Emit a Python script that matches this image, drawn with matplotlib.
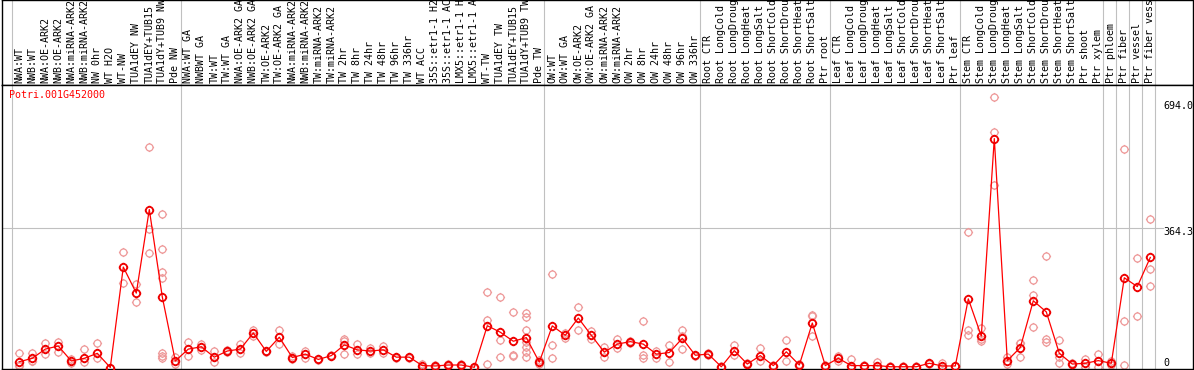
import numpy as np
import matplotlib
matplotlib.use('Agg')
import matplotlib.pyplot as plt
from matplotlib.path import Path
from matplotlib.transforms import offset_copy

plt.rcParams['font.family'] = ['DejaVu Sans Mono']

gene = 'Potri.001G452000'

labels = ['NWA:WT', 'NWB:WT', 'NWA:OE-ARK2', 'NWB:OE-ARK2', 'NWA:miRNA-ARK2', 'NWB:miRNA-ARK2',
          'NW 0hr', 'WT H2O', 'WT-NW', 'TUA1dEY NW', 'TUA1dEY+TUB15', 'TUA1dY+TUB9 NW', 'Pde NW',
          'NWA:WT GA', 'NWBWT GA', 'TW:WT', 'TW:WT GA', 'NWA:OE-ARK2 GA', 'NWB:OE-ARK2 GA',
          'TW:OE-ARK2', 'TW:OE-ARK2 GA', 'NWA:miRNA-ARK2', 'NWB:miRNA-ARK2', 'TW:miRNA-ARK2',
          'TW:miRNA-ARK2', 'TW 2hr', 'TW 8hr', 'TW 24hr', 'TW 48hr', 'TW 96hr', 'TW 336hr', 'WT ACC',
          '35S::etr1-1 H2O', '35S::etr1-1 ACC', 'LMX5::etr1-1 H2O', 'LMX5::etr1-1 ACC', 'WT-TW',
          'TUA1dEY TW', 'TUA1dEY+TUB15', 'TUA1dY+TUB9 TW', 'Pde TW',
          'OW:WT', 'OW:WT GA', 'OW:OE-ARK2', 'OW:OE-ARK2 GA', 'OW:miRNA-ARK2', 'OW:miRNA-ARK2',
          'OW 2hr', 'OW 8hr', 'OW 24hr', 'OW 48hr', 'OW 96hr', 'OW 336hr',
          'Root CTR', 'Root LongCold', 'Root LongDrought', 'Root LongHeat', 'Root LongSalt',
          'Root ShortCold', 'Root ShortDrought', 'Root ShortHeat', 'Root ShortSalt', 'Ptr root',
          'Leaf CTR', 'Leaf LongCold', 'Leaf LongDrought', 'Leaf LongHeat', 'Leaf LongSalt',
          'Leaf ShortCold', 'Leaf ShortDrought', 'Leaf ShortHeat', 'Leaf ShortSalt', 'Ptr leaf',
          'Stem CTR', 'Stem LongCold', 'Stem LongDrought', 'Stem LongHeat', 'Stem LongSalt',
          'Stem ShortCold', 'Stem ShortDrought', 'Stem ShortHeat', 'Stem ShortSalt', 'Ptr shoot',
          'Ptr xylem', 'Ptr phloem', 'Ptr fiber', 'Ptr vessel', 'Ptr fiber vessel']

# mean expression per sample
means = [15, 24, 48, 56, 17, 24, 37, 0, 262, 194, 412, 184, 17,
         48, 54, 27, 43, 48, 90, 42, 79, 26, 35, 21, 31, 59, 46, 43, 46, 27, 27, 5, 4, 6.5, 6.5,
         0.5, 109, 92, 68.5, 78, 14,
         108.6, 84, 129, 84, 40, 61, 67.5, 61, 35, 39, 76, 32,
         35, 2, 44, 9, 31, 5, 41, 6.5, 116, 5,
         24, 5, 5, 5, 2, 2, 2, 11, 4, 4,
         179, 82, 597, 18, 52, 174, 145, 37, 9, 11, 18, 11, 234, 211, 287]

# replicate values per sample
reps = [[37, 6, 3], [37, 17, 18], [63, 35], [66, 41], [21, 13], [48, 14], [64, 25], [0],
        [301, 220], [218, 171], [574, 362, 299], [401, 309, 249, 234, 37, 30, 26], [28, 8],
        [66, 31], [62, 45], [43, 15], [45, 41], [60, 37], [98, 82], [44, 40], [98, 61],
        [31, 21], [44, 26], [23, 19], [33, 29], [74, 68, 35], [61, 35], [50, 37], [57, 37],
        [28, 26], [28, 26], [10, 0], [6, 2], [9, 4], [9, 4], [1, 0],
        [197, 124, 9], [184, 71, 27.5], [144, 33, 30], [142, 133, 98, 66, 53, 41, 27], [20, 8],
        [244, 58, 24], [91, 76], [157.5, 98], [95.5, 74], [54, 28], [75, 50], [70, 65],
        [121, 33, 26], [44, 24], [59, 15], [98, 47.6, 82], [33, 31],
        [38, 32], [3, 1], [59, 32], [12, 6], [50, 18], [7, 3], [71, 17], [8, 5],
        [137, 134, 81], [7, 3],
        [31, 17], [22, 0, 0], [6, 4], [15, 0], [3, 1], [3, 1], [3, 1], [12, 10], [12.6, 0], [5, 3],
        [354, 98, 85], [102.6, 69, 75], [704.5, 613, 477], [28, 9], [63, 65, 28],
        [229, 190, 105], [292, 74, 67.5], [72, 11, 28], [12, 6], [21.5, 2], [35, 1], [16, 6],
        [571, 122, 6.5], [286, 135], [386, 257, 213]]

group_starts = [0, 13, 41, 53, 63, 73, 84, 85, 86, 87, 88]
ytick_vals = [694.0, 364.3, 0]
ytick_text = ['694.0', '364.3', '0']

# circle with little ticks
circ = Path.unit_circle()
ticks = Path([(0, 1), (0, 1.3), (0, -1), (0, -1.3), (1, 0), (1.3, 0), (-1, 0), (-1.3, 0)],
             [Path.MOVETO, Path.LINETO] * 4)
mark = Path.make_compound_path(circ, ticks)

W, H = 1194, 370
fig = plt.figure(figsize=(W / 100, H / 100), dpi=100)
xlim = ((2 - 19.3) / 13, (1193 - 19.3) / 13)

ax_lab = fig.add_axes([2 / W, (H - 85) / H, 1191 / W, 85 / H])
ax = fig.add_axes([2 / W, 1 / H, 1191 / W, 284 / H])

for a in (ax_lab, ax):
    a.set_xlim(xlim)
    a.set_xticks([])
    a.set_yticks([])
    for s in a.spines.values():
        s.set_color('black')
        s.set_linewidth(1)
    for g in group_starts:
        a.axvline(g - 0.6, color='#c0c0c0', lw=0.8, zorder=0)

ax_lab.set_ylim(0, 85)
x = np.arange(len(labels))
for i, lab in enumerate(labels):
    ax_lab.text(i, 2, lab, rotation=90, ha='center', va='bottom', fontsize=7.2, color='black')

ax.set_ylim(-3.9, 736.7)
ax.plot([xlim[0], 87.98], [364.3, 364.3], color='#c0c0c0', lw=0.8, zorder=0)

for i, r in enumerate(reps):
    ax.plot([i] * len(r), r, ls='none', marker=mark, ms=6.6, mfc='none', mec='#ee9999', mew=0.9, zorder=2)

ax.plot(x, means, color='red', lw=0.9, marker=mark, ms=6.8, mfc='none', mec='#ee0000', mew=1.3, zorder=3)

ax.text(-0.79, 710.5, gene, color='red', fontsize=7.2, ha='left', va='center')

# value labels on the right, top/middle sit a bit under the value, zero sits above
for v, t, dy in zip(ytick_vals, ytick_text, [-5, -4, 5]):
    trans = offset_copy(ax.transData, fig=fig, x=0, y=dy, units='dots')
    ax.text(87.98, v, t, transform=trans, fontsize=7.2, ha='left', va='center', color='black')

fig.savefig('out.png', dpi=100)
